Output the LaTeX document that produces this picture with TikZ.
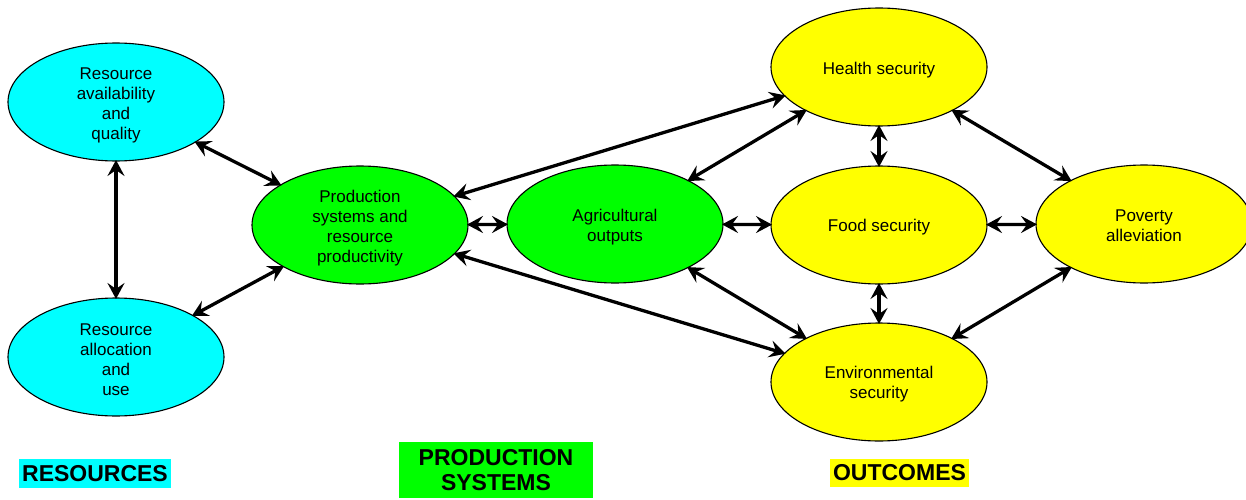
\documentclass[tikz,border=0pt]{standalone}
\usepackage{fontspec}
\setmainfont{Liberation Sans}
\usetikzlibrary{shapes.geometric,arrows.meta}
\definecolor{rcyan}{RGB}{0,255,255}
\definecolor{rgreen}{RGB}{0,255,0}
\definecolor{ryellow}{RGB}{255,255,0}
\tikzset{
  oval/.style={ellipse, draw=black, line width=1.1pt, minimum width=216pt, minimum height=118pt,
    inner sep=0pt, outer sep=0pt},
  resnode/.style={oval, fill=rcyan},
  prodnode/.style={oval, fill=rgreen},
  outnode/.style={oval, fill=ryellow},
  txt/.style={inner sep=0pt, align=center, font=\fontsize{17}{20}\selectfont},
  tip/.style={Stealth[length=16pt,width=17pt,inset=6pt]},
  link/.style={line width=3.3pt, {Stealth[length=16pt,width=17pt,inset=6pt]}-{Stealth[length=16pt,width=17pt,inset=6pt]}, shorten <=-1pt, shorten >=-1pt},
  tag/.style={inner sep=0pt, align=center, font=\fontsize{23}{25}\selectfont\bfseries}
}
\begin{document}
\begin{tikzpicture}[x=1pt,y=-1pt]
\useasboundingbox (0,0) rectangle (1246,500);
\node[resnode] (ra) at (116,102) {};
\node[resnode] (ru) at (116,357) {};
\node[prodnode] (ps) at (360,225) {};
\node[prodnode] (ao) at (615,224) {};
\node[outnode] (hs) at (879,67) {};
\node[outnode] (fs) at (879,225) {};
\node[outnode] (pa) at (1144,224) {};
\node[outnode] (es) at (879,382) {};

\node[txt] (ra-t) at ([yshift=-3pt]ra.center) {Resource\\availability\\and\\quality};
\node[txt] (ru-t) at ([yshift=-3pt]ru.center) {Resource\\allocation\\and\\use};
\node[txt] (ps-t) at ([yshift=-3pt]ps.center) {Production\\systems and\\resource\\productivity};
\node[txt] (ao-t) at ([yshift=-3pt]ao.center) {Agricultural\\outputs};
\node[txt] (hs-t) at ([yshift=-3pt]hs.center) {Health security};
\node[txt] (fs-t) at ([yshift=-2pt]fs.center) {Food security};
\node[txt] (pa-t) at ([yshift=-2pt]pa.center) {Poverty\\alleviation};
\node[txt] (es-t) at ([yshift=-2pt]es.center) {Environmental\\security};

\draw[link] (ra) -- (ps);
\draw[link] (ra) -- (ru);
\draw[link] (ru) -- (ps);
\draw[link] (ps) -- (hs);
\draw[link] (ps) -- (es);
\draw[link] (ps) -- (ao);
\draw[link] (ao) -- (hs);
\draw[link] (ao) -- (es);
\draw[link] (ao) -- (fs);
\draw[link] (hs) -- (fs);
\draw[link] (fs) -- (es);
\draw[link] (fs) -- (pa);
\draw[link] (hs) -- (pa);
\draw[link] (es) -- (pa);

\node[tag, fill=rcyan, minimum width=152pt, minimum height=29pt] (lr) at (95,473.5) {RESOURCES};
\node[tag, fill=rgreen, minimum width=194pt, minimum height=56pt] (lp) at (496,470) {PRODUCTION\\SYSTEMS};
\node[tag, fill=ryellow, minimum width=139pt, minimum height=28pt] (lo) at (899.5,473) {OUTCOMES};
\end{tikzpicture}
\end{document}
